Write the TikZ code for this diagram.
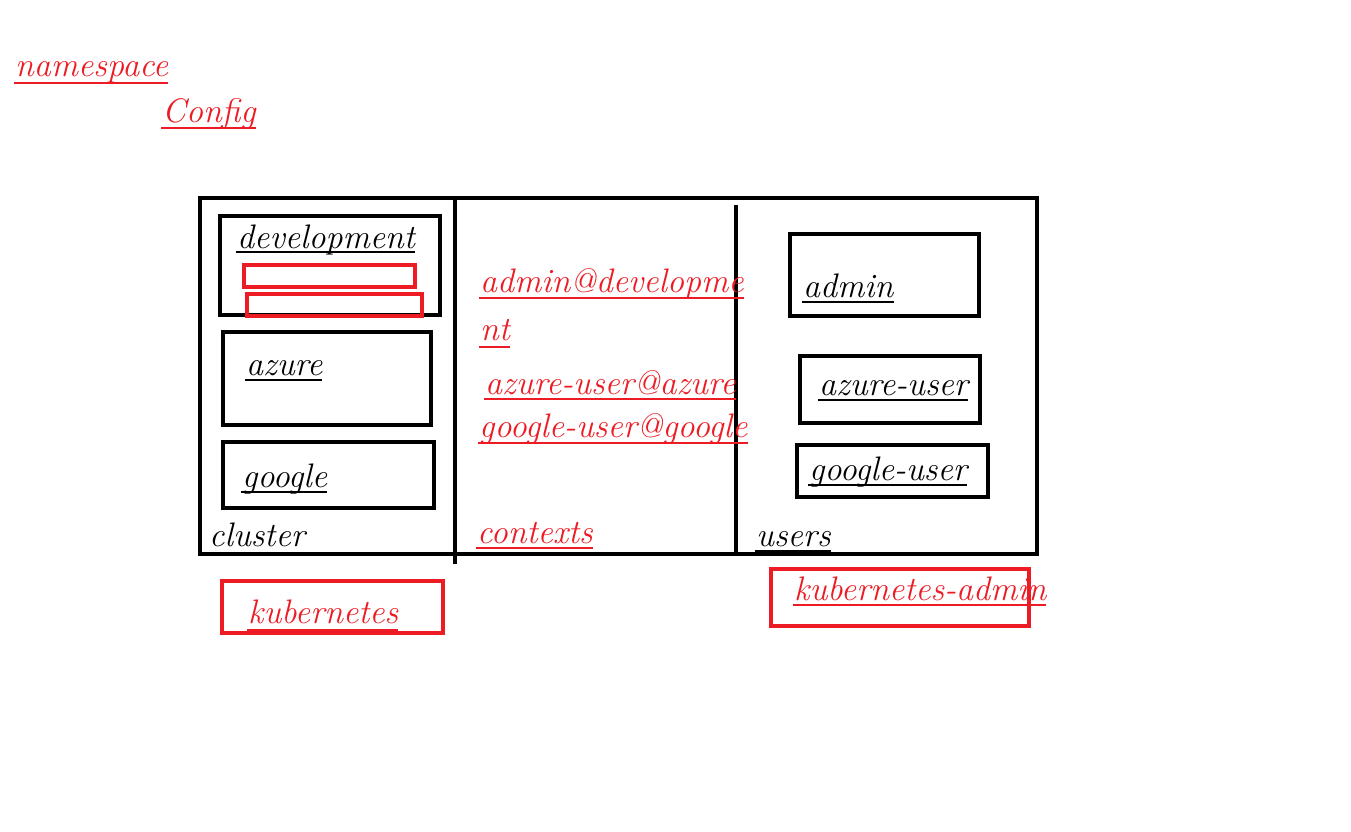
\documentclass[tikz,border=0pt]{standalone}
\usetikzlibrary{calc}
\definecolor{pred}{HTML}{ED1C24}
\tikzset{
  box/.style={draw=black,line width=4pt},
  rbox/.style={draw=pred,line width=4pt},
  lbl/.style={anchor=base west,inner sep=0pt,font=\fontsize{34}{40}\selectfont\itshape},
  rlbl/.style={lbl,text=pred},
}
\newcommand{\ul}[3]{\draw[line width=2pt,#3] ($(#1.base west)+(-1,#2)$) -- ($(#1.base east)+(0,#2)$);}
\begin{document}
\begin{tikzpicture}[x=1pt,y=-1pt]
\useasboundingbox (0,0) rectangle (1351,831);
% frames
\draw[box] (200,198) rectangle (1037,554);
\coordinate (d1t) at (455,200); \coordinate (d1b) at (455,564);
\coordinate (d2t) at (736,205); \coordinate (d2b) at (736,554);
\draw[black,line width=4pt] (d1t) -- (d1b);
\draw[black,line width=4pt] (d2t) -- (d2b);
% cluster column
\draw[box] (220,216) rectangle (440,315);
\draw[rbox] (244,265) rectangle (415,287);
\draw[rbox] (247,294) rectangle (422,316);
\draw[box] (223,332) rectangle (431,425);
\draw[box] (223,442) rectangle (434,508);
% users column
\draw[box] (790,234) rectangle (979,316);
\draw[box] (800,356) rectangle (980,423);
\draw[box] (797,445) rectangle (988,497);
% red boxes below
\draw[rbox] (222,581) rectangle (443,633);
\draw[rbox] (771,569) rectangle (1029,626);
% labels
\node[rlbl] (ns) at (15,76) {namespace}; \ul{ns}{7}{pred}
\node[rlbl] (cfg) at (162,122) {Config}; \ul{cfg}{6}{pred}
\node[lbl] (dev) at (237,248) {development}; \ul{dev}{4}{black}
\node[lbl] (az) at (246,375) {azure}; \ul{az}{5}{black}
\node[lbl] (go) at (242,487) {google}; \ul{go}{5}{black}
\node[lbl] (cl) at (209,546) {cluster};
\node[rlbl] (c1) at (480,292) {admin@developme}; \ul{c1}{6}{pred}
\node[rlbl] (c2) at (480,340) {nt}; \ul{c2}{7}{pred}
\node[rlbl] (c3) at (485,394) {azure-user@azure}; \ul{c3}{5}{pred}
\node[rlbl] (c4) at (479,437) {google-user@google}; \ul{c4}{6}{pred}
\node[rlbl] (ctx) at (477,543) {contexts}; \ul{ctx}{5}{pred}
\node[lbl] (ad) at (803,297) {admin}; \ul{ad}{5}{black}
\node[lbl] (au) at (819,395) {azure-user}; \ul{au}{5}{black}
\node[lbl] (gu) at (809,480) {google-user}; \ul{gu}{5}{black}
\node[lbl] (us) at (756,546) {users}; \ul{us}{5}{black}
\node[rlbl] (k) at (248,623) {kubernetes}; \ul{k}{7}{pred}
\node[rlbl] (ka) at (794,600) {kubernetes-admin}; \ul{ka}{5}{pred}
\end{tikzpicture}
\end{document}
